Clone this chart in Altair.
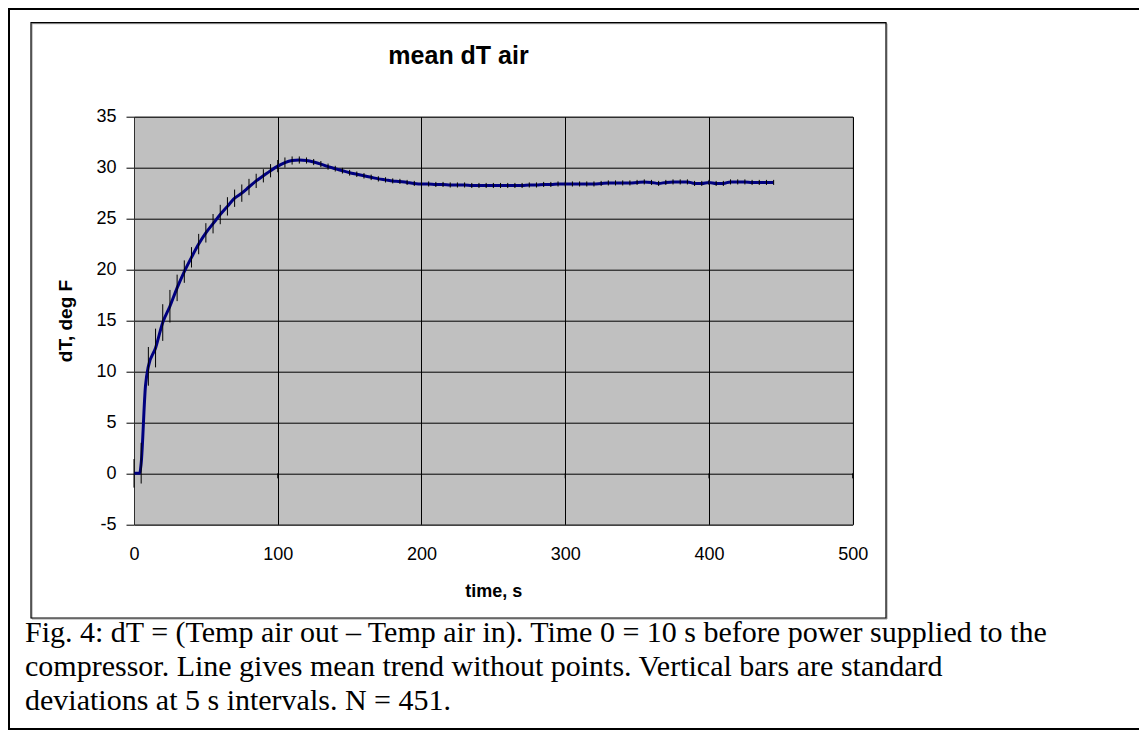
import altair as alt
import pandas as pd

# ---------------- data ----------------
title_text = "mean dT air"
x_title = "time, s"
y_title = "dT, deg F"
caption_lines = [
    "Fig. 4: dT = (Temp air out \u2013 Temp air in). Time 0 = 10 s before power supplied to the",
    "compressor. Line gives mean trend without points. Vertical bars are standard",
    "deviations at 5 s intervals. N = 451.",
]

x_ticks = [0, 100, 200, 300, 400, 500]
y_ticks = [-5, 0, 5, 10, 15, 20, 25, 30, 35]
axis_tick_marks = [100, 200, 300, 400, 500]

# error-bar sample times (5 s intervals)
bar_time = [0, 5, 10, 15, 20, 25, 30, 35, 40, 45, 50, 55, 60, 65, 70, 75, 80, 85, 90, 95,
            100, 105, 110, 115, 120, 125, 130, 135, 140, 145, 150, 155, 160, 165, 170, 175,
            180, 185, 190, 195, 200, 205, 210, 215, 220, 225, 230, 235, 240, 245, 250, 255,
            260, 265, 270, 275, 280, 285, 290, 295, 300, 305, 310, 315, 320, 325, 330, 335,
            340, 345, 350, 355, 360, 365, 370, 375, 380, 385, 390, 395, 400, 405, 410, 415,
            420, 425, 430, 435, 440, 445]
mean_dT = [0.0, 1.0, 10.5, 12.3, 14.8, 16.4, 18.2, 19.8, 21.2, 22.5, 23.6, 24.5, 25.4, 26.2,
           27.0, 27.5, 28.1, 28.7, 29.2, 29.7, 30.15, 30.5, 30.7, 30.75, 30.7, 30.55, 30.35,
           30.1, 29.9, 29.7, 29.5, 29.35, 29.2, 29.05, 28.9, 28.8, 28.7, 28.65, 28.55, 28.45,
           28.4, 28.4, 28.35, 28.35, 28.3, 28.3, 28.3, 28.25, 28.25, 28.25, 28.25, 28.25,
           28.25, 28.25, 28.25, 28.3, 28.3, 28.35, 28.35, 28.4, 28.4, 28.4, 28.4, 28.4, 28.4,
           28.45, 28.5, 28.5, 28.5, 28.5, 28.55, 28.6, 28.55, 28.45, 28.55, 28.6, 28.6, 28.6,
           28.45, 28.45, 28.55, 28.45, 28.45, 28.6, 28.6, 28.6, 28.55, 28.55, 28.55, 28.55]
sd_dT = [1.4, 2.0, 1.9, 1.9, 1.8, 1.6, 1.3, 1.1, 1.0, 1.0, 0.95, 0.95, 0.95, 0.9, 0.85, 0.85,
         0.8, 0.7, 0.65, 0.65, 0.6, 0.5, 0.4, 0.35, 0.3, 0.3, 0.3, 0.3, 0.28, 0.28, 0.28, 0.27,
         0.27, 0.27, 0.26, 0.26, 0.25, 0.25, 0.25, 0.25, 0.25, 0.25, 0.25, 0.25, 0.25, 0.25,
         0.25, 0.25, 0.25, 0.25, 0.25, 0.25, 0.25, 0.25, 0.25, 0.25, 0.25, 0.25, 0.25, 0.25,
         0.25, 0.25, 0.25, 0.25, 0.25, 0.25, 0.25, 0.25, 0.25, 0.25, 0.25, 0.25, 0.25, 0.25,
         0.25, 0.25, 0.25, 0.25, 0.25, 0.25, 0.25, 0.25, 0.25, 0.25, 0.25, 0.25, 0.25, 0.25,
         0.25, 0.25]
# additional points of the mean trend during the initial rise
extra_time = [4, 8]
extra_dT = [0.0, 8.6]

# ---------------- tables ----------------
bars = pd.DataFrame({"t": bar_time, "m": mean_dT, "sd": sd_dT})
bars["lo"] = bars["m"] - bars["sd"]
bars["hi"] = bars["m"] + bars["sd"]
line_df = pd.concat([
    bars[["t", "m"]],
    pd.DataFrame({"t": extra_time, "m": extra_dT}),
]).sort_values("t").reset_index(drop=True)
tick_df = pd.DataFrame({"t": axis_tick_marks, "y": [0] * len(axis_tick_marks)})
one = pd.DataFrame({"k": [0]})

FONT = "Liberation Sans"
PLOT_W, PLOT_H = 718.7, 407.6
PAD = {"left": 126, "top": 108.7, "right": 286.3, "bottom": 205.7}

xscale = alt.Scale(domain=[0, 500], nice=False, zero=False)
yscale = alt.Scale(domain=[-5, 35], nice=False, zero=False)

x_axis = alt.Axis(values=x_ticks, title=x_title, grid=True, gridColor="#000000",
                  gridOpacity=1, gridWidth=1, ticks=False, domain=False,
                  labelExpr="'' + datum.value",
                  labelFont=FONT, labelFontSize=18, labelColor="#000000",
                  labelPadding=21, titleFont=FONT, titleFontSize=18,
                  titleFontWeight="bold", titleColor="#000000", titlePadding=19,
                  labelFlush=False)
y_axis = alt.Axis(values=y_ticks, title=y_title, grid=True, gridColor="#000000",
                  gridOpacity=1, gridWidth=1, tickSize=8, tickColor="#000000",
                  domain=True, domainColor="#303030", labelExpr="'' + datum.value",
                  labelFont=FONT, labelFontSize=18,
                  labelColor="#000000", labelPadding=10, titleFont=FONT,
                  titleFontSize=19, titleFontWeight="bold", titleColor="#000000",
                  titlePadding=20, labelFlush=False)

base_line = alt.Chart(line_df).mark_line(
    color="#000080", strokeWidth=3, interpolate="monotone"
).encode(
    x=alt.X("t:Q", scale=xscale, axis=x_axis),
    y=alt.Y("m:Q", scale=yscale, axis=y_axis),
)

err = alt.Chart(bars).mark_rule(color="#000000", strokeWidth=1).encode(
    x=alt.X("t:Q", scale=xscale),
    y=alt.Y("lo:Q", scale=yscale),
    y2="hi:Q",
)

axis_ticks = alt.Chart(tick_df).mark_point(
    shape="M0,0L0,1", size=100, filled=False, stroke="#000000", strokeWidth=1, opacity=1
).encode(
    x=alt.X("t:Q", scale=xscale),
    y=alt.Y("y:Q", scale=yscale),
)

# chart frame (inner box with light shadow) and page frame
shadow = alt.Chart(one).mark_rect(fill=None, stroke="#9a9a9a", strokeWidth=1).encode(
    x=alt.value(-102), x2=alt.value(753), y=alt.value(-93), y2=alt.value(502.3))
box = alt.Chart(one).mark_rect(fill=None, stroke="#000000", strokeWidth=1.2).encode(
    x=alt.value(-103), x2=alt.value(752), y=alt.value(-94), y2=alt.value(501.3))
page_top = alt.Chart(one).mark_rule(color="#000000", strokeWidth=2).encode(
    x=alt.value(-126), x2=alt.value(1005), y=alt.value(-107.7))
page_left = alt.Chart(one).mark_rule(color="#000000", strokeWidth=2).encode(
    x=alt.value(-125), y=alt.value(-108.7), y2=alt.value(613.3))
page_bottom = alt.Chart(one).mark_rule(color="#000000", strokeWidth=2).encode(
    x=alt.value(-126), x2=alt.value(1005), y=alt.value(612.3))

title = alt.Chart(one).mark_text(
    text=title_text, font=FONT, fontSize=25, fontWeight="bold", color="#000000",
    align="center", baseline="alphabetic"
).encode(x=alt.value(324.5), y=alt.value(-52.7))

caption = alt.Chart(one).mark_text(
    text="\n".join(caption_lines), lineBreak="\n", lineHeight=34,
    font="Liberation Serif", fontSize=30, color="#000000",
    align="left", baseline="alphabetic"
).encode(x=alt.value(-109), y=alt.value(525))

chart = alt.layer(
    base_line, err, axis_ticks, shadow, box, page_top, page_left, page_bottom, title, caption
).properties(
    width=PLOT_W, height=PLOT_H, padding=PAD,
    autosize=alt.AutoSizeParams(type="none"),
    background="#ffffff",
).configure_view(
    fill="#C0C0C0", stroke="#808080", strokeWidth=1
)

chart.save("out.html", embed_options={"renderer": "svg", "actions": False})
